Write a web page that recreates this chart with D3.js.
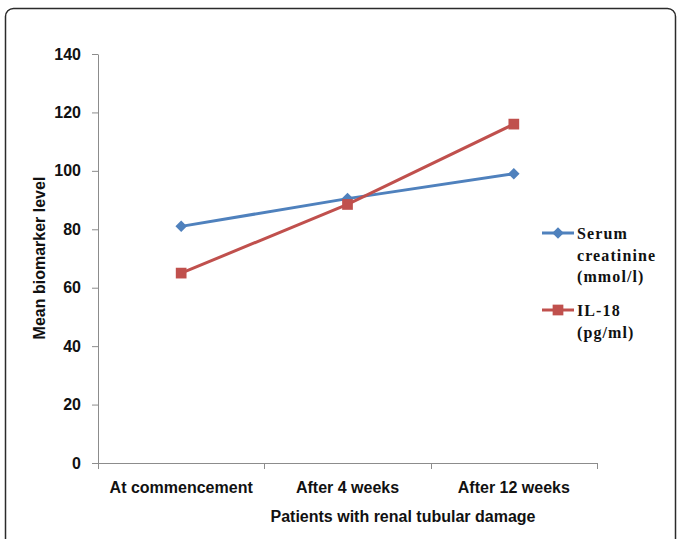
<!DOCTYPE html>
<html>
<head>
<meta charset="utf-8">
<script src="https://cdn.jsdelivr.net/npm/d3@7"></script>
<style>
  html, body { margin: 0; padding: 0; background: #fff; }
  svg { display: block; }
</style>
</head>
<body>
<svg id="chart" width="678" height="539"></svg>
<script>
// Time points along the x axis
const categories = ["At commencement", "After 4 weeks", "After 12 weeks"];
// Mean biomarker levels per time point
const serumCreatinine = [81, 90.5, 99];
const il18 = [65, 88.5, 116];
// Y axis ticks
const yTicks = [0, 20, 40, 60, 80, 100, 120, 140];
// Legend entries (each label wraps across several lines)
const seriesNames = [["Serum", "creatinine", "(mmol/l)"], ["IL-18", "(pg/ml)"]];

const svg = d3.select("#chart");
const plot = { left: 98, right: 597, top: 54, bottom: 463 };

// outer chart frame with rounded corners (bottom/right run off the page)
svg.append("rect")
  .attr("x", 5.5).attr("y", 8.5)
  .attr("width", 670).attr("height", 560)
  .attr("rx", 8).attr("ry", 8)
  .attr("fill", "#fff")
  .attr("stroke", "#2b2b2b")
  .attr("stroke-width", 1.5);

const x = d3.scaleBand().domain(categories).range([plot.left, plot.right]);
const y = d3.scaleLinear().domain([0, 140]).range([plot.bottom, plot.top]);

const axisColor = "#8c8c8c";
const sansFont = "'Liberation Sans', Arial, sans-serif";
const labelFont = `bold 16px ${sansFont}`;

// y axis
const gy = svg.append("g")
  .attr("transform", `translate(${plot.left},0)`)
  .call(d3.axisLeft(y).tickValues(yTicks).tickSize(6).tickPadding(11).tickSizeOuter(0));
gy.select(".domain").attr("stroke", axisColor);
gy.selectAll(".tick line").attr("stroke", axisColor);
gy.selectAll(".tick text")
  .attr("fill", "#111")
  .style("font", labelFont);

// x axis: labels centred in each band, ticks on band boundaries
const gx = svg.append("g")
  .attr("transform", `translate(0,${plot.bottom})`)
  .call(d3.axisBottom(x).tickSize(0).tickPadding(19).tickSizeOuter(0));
gx.select(".domain").remove();
gx.selectAll(".tick text")
  .attr("fill", "#111")
  .style("font", labelFont);

const bounds = categories.map(c => x(c)).concat([x(categories[categories.length - 1]) + x.bandwidth()]);
gx.append("line")
  .attr("x1", plot.left).attr("x2", bounds[bounds.length - 1])
  .attr("y1", 0.5).attr("y2", 0.5)
  .attr("stroke", axisColor);
gx.selectAll("line.bound").data(bounds).join("line")
  .attr("class", "bound")
  .attr("x1", d => Math.round(d) + 0.5).attr("x2", d => Math.round(d) + 0.5)
  .attr("y1", 0).attr("y2", 6)
  .attr("stroke", axisColor);

// axis titles
svg.append("text")
  .attr("transform", `translate(45,258) rotate(-90)`)
  .attr("text-anchor", "middle")
  .attr("fill", "#111")
  .style("font", labelFont)
  .text("Mean biomarker level");

svg.append("text")
  .attr("x", 403).attr("y", 522)
  .attr("text-anchor", "middle")
  .attr("fill", "#111")
  .style("font", labelFont)
  .text("Patients with renal tubular damage");

const cx = d => x(d) + x.bandwidth() / 2;
const line = d3.line().x(d => cx(d.c)).y(d => y(d.v));

// diamond drawn as a square turned 45 degrees; square markers upright
const series = [
  { values: serumCreatinine, color: "#4F81BD", size: 66, rot: 45 },
  { values: il18, color: "#C0504D", size: 115, rot: 0 }
];

series.forEach(s => {
  const pts = categories.map((c, i) => ({ c, v: s.values[i] }));
  svg.append("path")
    .datum(pts)
    .attr("d", line)
    .attr("fill", "none")
    .attr("stroke", s.color)
    .attr("stroke-width", 3);
  svg.selectAll(null).data(pts).join("path")
    .attr("transform", d => `translate(${cx(d.c)},${y(d.v)}) rotate(${s.rot})`)
    .attr("d", d3.symbol(d3.symbolSquare, s.size))
    .attr("fill", s.color);
});

// legend
const legendFont = "'Liberation Serif', 'Times New Roman', serif";
const legendRows = [233, 310];
series.forEach((s, i) => {
  const g = svg.append("g").attr("transform", `translate(542,${legendRows[i]})`);
  g.append("line")
    .attr("x1", 0).attr("x2", 32)
    .attr("stroke", s.color).attr("stroke-width", 3);
  g.append("path")
    .attr("transform", `translate(16,0) rotate(${s.rot})`)
    .attr("d", d3.symbol(d3.symbolSquare, s.size))
    .attr("fill", s.color);
  g.selectAll("text").data(seriesNames[i]).join("text")
    .attr("x", 35)
    .attr("y", (d, j) => 6 + j * 21.5)
    .attr("fill", "#111")
    .style("font", `bold 16px ${legendFont}`)
    .style("letter-spacing", "1.1px")
    .text(d => d);
});
</script>
</body>
</html>
